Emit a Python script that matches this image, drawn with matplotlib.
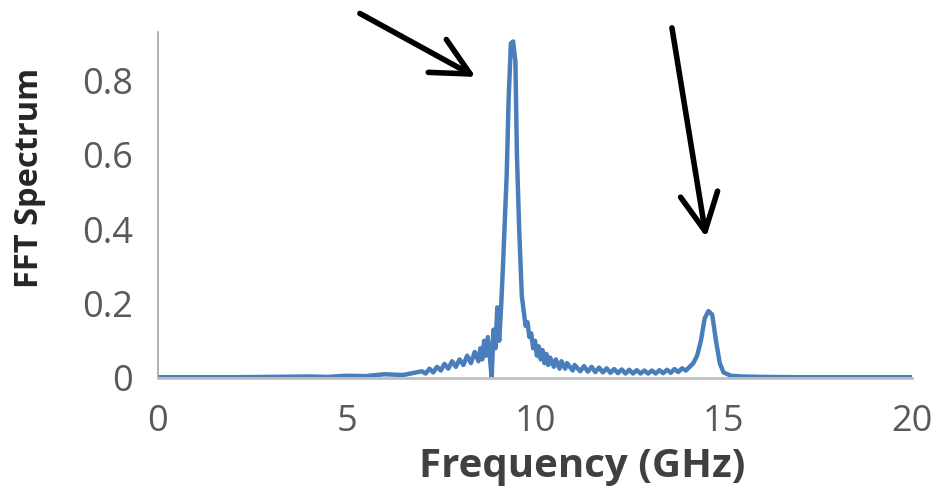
import matplotlib.pyplot as plt
import matplotlib

matplotlib.rc('font', family=['Open Sans', 'DejaVu Sans'])

# frequency (GHz) and FFT amplitude
freq = [0.0, 1.0, 2.0, 3.0, 4.0, 4.5, 5.0, 5.5, 6.0, 6.5,
        7.0, 7.1, 7.2, 7.3, 7.4, 7.5, 7.6, 7.7, 7.8, 7.9, 8.0, 8.1, 8.2, 8.3, 8.4,
        8.5, 8.55, 8.6, 8.65, 8.7, 8.75, 8.8, 8.85, 8.9, 8.95, 9.0, 9.05, 9.1,
        9.15, 9.25, 9.3, 9.36, 9.42, 9.48, 9.52, 9.58, 9.65,
        9.7, 9.75, 9.8, 9.85, 9.9, 9.95, 10.0, 10.05, 10.1, 10.15, 10.2, 10.25,
        10.3, 10.35, 10.4, 10.5, 10.55, 10.65, 10.7, 10.8, 10.85, 11.0, 11.05,
        11.2, 11.3, 11.4, 11.5, 11.6, 11.7, 11.8, 11.9, 12.0, 12.1, 12.2, 12.3,
        12.4, 12.5, 12.6, 12.7, 12.8, 12.9, 13.0, 13.1, 13.2, 13.3, 13.4, 13.5,
        13.6, 13.7, 13.8, 13.9, 14.0, 14.1, 14.2, 14.3, 14.4, 14.5, 14.6, 14.7,
        14.8, 14.9, 15.0, 15.2, 15.5, 16.0, 17.0, 18.0, 19.0, 20.0]
spectrum = [0.002, 0.002, 0.002, 0.003, 0.004, 0.003, 0.006, 0.005, 0.01, 0.008,
            0.018, 0.012, 0.025, 0.015, 0.03, 0.02, 0.038, 0.025, 0.045, 0.03, 0.05, 0.035, 0.06, 0.04, 0.07,
            0.045, 0.08, 0.05, 0.1, 0.06, 0.11, 0.06, 0.0, 0.13, 0.08, 0.19, 0.1, 0.19,
            0.3, 0.55, 0.75, 0.9, 0.905, 0.85, 0.6, 0.4, 0.22,
            0.18, 0.14, 0.15, 0.11, 0.12, 0.08, 0.1, 0.06, 0.085, 0.05, 0.075, 0.04,
            0.065, 0.035, 0.055, 0.03, 0.05, 0.025, 0.045, 0.025, 0.04, 0.02, 0.035,
            0.018, 0.032, 0.017, 0.03, 0.016, 0.028, 0.015, 0.026, 0.014, 0.024, 0.013, 0.023,
            0.012, 0.022, 0.012, 0.021, 0.012, 0.02, 0.012, 0.02, 0.012, 0.021, 0.013, 0.022,
            0.014, 0.024, 0.016, 0.026, 0.02, 0.03, 0.04, 0.06, 0.1, 0.16, 0.18, 0.17,
            0.1, 0.04, 0.015, 0.006, 0.004, 0.003, 0.002, 0.002, 0.002, 0.002]

x_ticks = [0, 5, 10, 15, 20]
y_ticks = [0, 0.2, 0.4, 0.6, 0.8]
y_tick_labels = ['0', '0.2', '0.4', '0.6', '0.8']

# arrows pointing at the two peaks: (start, end) in data units
arrows = [((5.29, 0.984), (8.49, 0.806)),
          ((13.62, 0.949), (14.55, 0.371))]

fig = plt.figure(figsize=(9.36, 4.95), dpi=100)
ax = fig.add_axes([0.1688, 0.2364, 0.8056, 0.6986])

ax.plot(freq, spectrum, color='#4A7EBB', lw=3.2, solid_joinstyle='round')

ax.set_xlim(0, 20)
ax.set_ylim(0, 0.93)
ax.set_xticks(x_ticks)
ax.set_yticks(y_ticks)
ax.set_yticklabels(y_tick_labels)
ax.tick_params(length=0, labelsize=26, colors='#595959')
ax.tick_params(axis='x', pad=19)
ax.tick_params(axis='y', pad=18)

for side in ['top', 'right']:
    ax.spines[side].set_visible(False)
ax.spines['left'].set_color('#A6A6A6')
ax.spines['left'].set_linewidth(1.2)
ax.spines['bottom'].set_color('#BFBFBF')
ax.spines['bottom'].set_linewidth(2)

ax.set_xlabel('Frequency (GHz)', fontsize=29, fontweight='bold', color='#404040')
ax.set_ylabel('FFT Spectrum', fontsize=23.5, fontweight='bold', color='#262626')
ax.xaxis.set_label_coords(0.562, -0.255)
ax.xaxis.label.set_va('center')
ax.yaxis.set_label_coords(-0.170, 0.58)
ax.yaxis.label.set_va('center')

for start, end in arrows:
    ax.annotate('', xy=end, xytext=start, annotation_clip=False,
                arrowprops=dict(arrowstyle='->, head_length=0.9, head_width=0.45',
                                lw=4, color='black', mutation_scale=30))

fig.savefig('out.png', dpi=100)
